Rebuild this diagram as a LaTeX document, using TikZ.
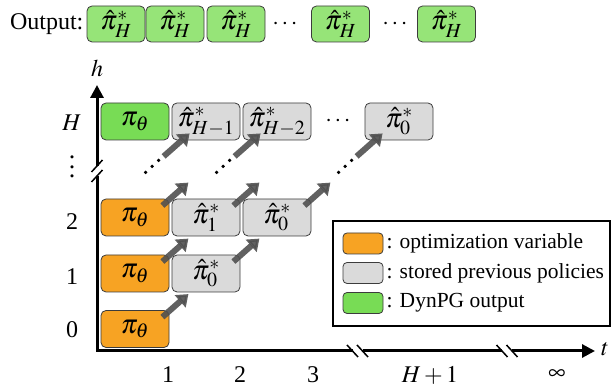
\documentclass[tikz,border=0pt]{standalone}
\usepackage{mathptmx}
\usepackage{fontspec}
\setmainfont{Liberation Serif}
\usetikzlibrary{arrows.meta, positioning}

\definecolor{optorange}{RGB}{247,163,35}
\definecolor{dpgreen}{RGB}{120,220,85}
\definecolor{outgreen}{RGB}{150,228,120}
\definecolor{storegray}{RGB}{218,218,218}
\definecolor{edgegray}{RGB}{60,60,60}
\definecolor{arrowgray}{RGB}{80,80,80}

\begin{document}
\begin{tikzpicture}[
    x=1pt, y=1pt,
    on grid,
    font=\fontsize{24}{28}\selectfont,
    pbox/.style={draw=edgegray, line width=0.8pt, rounded corners=5pt,
        minimum width=68pt, minimum height=37pt, inner sep=0pt,
        font=\fontsize{27}{30}\selectfont},
    optvar/.style={pbox, fill=optorange},
    stored/.style={pbox, fill=storegray},
    dynout/.style={pbox, fill=dpgreen},
    outbox/.style={pbox, fill=outgreen, minimum width=58pt, minimum height=36pt},
    swatch/.style={pbox, minimum width=40pt, minimum height=21pt, rounded corners=4pt},
    legendtxt/.style={anchor=west, inner sep=0pt, font=\fontsize{21.5}{25}\selectfont},
    axis/.style={line width=3pt},
    flow/.style={arrowgray, line width=6pt, opacity=0.9,
        -{Triangle[length=11pt, width=16pt]}},
    brk/.style={line width=1.5pt},
]
    \useasboundingbox (0,0) rectangle (613,387);

    % output row
    \node[outbox]                     (o1) at (116,363) {$\hat{\pi}^*_H$};
    \node[outbox, right=59pt of o1]   (o2) {$\hat{\pi}^*_H$};
    \node[outbox, right=61pt of o2]   (o3) {$\hat{\pi}^*_H$};
    \node[right=49pt of o3]           (odots1) {$\cdots$};
    \node[outbox, right=55.5pt of odots1] (o4) {$\hat{\pi}^*_H$};
    \node[right=54.5pt of o4]         (odots2) {$\cdots$};
    \node[outbox, right=51.5pt of odots2] (o5) {$\hat{\pi}^*_H$};
    \node[anchor=east, inner sep=0pt] (outlbl) at ([xshift=-3pt]o1.west) {Output:};

    % axes
    \coordinate (origin) at (97,36);
    \coordinate (hend)   at (97,302);
    \coordinate (tend)   at (595,36);
    \draw[axis, {Triangle[length=13pt, width=13pt]}-{Triangle[length=13pt, width=13pt]}]
        (hend) -- (origin) -- (tend);
    \node (hlbl) at (97,319) {$h$};
    \node (tlbl) at (605,38) {$t$};

    % axis breaks
    \coordinate (vbrk) at (97,216);
    \fill[white] ([shift={(-3,-5)}]vbrk) rectangle ([shift={(3,5)}]vbrk);
    \foreach \dy in {-5,5}
        \draw[brk] ([shift={(-5.5,\dy-6)}]vbrk) -- ([shift={(5.5,\dy+6)}]vbrk);
    \foreach \bx in {357.5,507}{
        \coordinate (tbrk) at (\bx,36);
        \fill[white] ([shift={(-5,-3)}]tbrk) rectangle ([shift={(5,3)}]tbrk);
        \foreach \dx in {-5,5}
            \draw[brk] ([shift={(\dx-5.5,6)}]tbrk) -- ([shift={(\dx+5.5,-6)}]tbrk);
    }

    % tick labels
    \node (ylH) at (72,264) {$H$};
    \node[align=center, inner sep=0pt, font=\fontsize{26}{9.5}\selectfont] (ylv) at (72,220) {.\\.\\.};
    \node (yl2) at (72,165) {2};
    \node (yl1) at (72,110) {1};
    \node (yl0) at (72,57)  {0};
    \node (xl1) at (168,12) {1};
    \node (xl2) at (240,12) {2};
    \node (xl3) at (313,12) {3};
    \node (xlH) at (430,12) {$H+1$};
    \node (xli) at (557,12) {$\infty$};

    % policy boxes
    \node[optvar]                      (r0c1) at (135,58) {$\pi_\theta$};
    \node[optvar, above=55.5pt of r0c1] (r1c1) {$\pi_\theta$};
    \node[optvar, above=56pt of r1c1]  (r2c1) {$\pi_\theta$};
    \node[dynout, above=96pt of r2c1]  (rHc1) {$\pi_\theta$};
    \node[stored, right=71pt of r1c1]  (r1c2) {$\hat{\pi}^*_0$};
    \node[stored, right=71pt of r2c1]  (r2c2) {$\hat{\pi}^*_1$};
    \node[stored, right=71pt of r2c2]  (r2c3) {$\hat{\pi}^*_0$};
    \node[stored, right=71pt of rHc1]  (rHc2) {$\hat{\pi}^*_{H-1}$};
    \node[stored, right=71pt of rHc2]  (rHc3) {$\hat{\pi}^*_{H-2}$};
    \node[right=61pt of rHc3]          (hdots) {$\cdots$};
    \node[stored, right=122pt of rHc3] (rHc4) {$\hat{\pi}^*_0$};

    % shifts to the next step
    \foreach \src in {r0c1, r1c1, r1c2, r2c1, r2c2, r2c3}
        \draw[flow] ([shift={(-7,-7)}]\src.north east) -- ([shift={(19,16)}]\src.north east);
    \foreach \dst in {rHc2, rHc3, rHc4}{
        \draw[flow] ([shift={(-8,-16)}]\dst.south west) -- ([shift={(18,7)}]\dst.south west);
        \foreach \ox/\oy in {-26/-32, -19.5/-26, -13/-20}
            \fill ([shift={(\ox,\oy)}]\dst.south west) circle (1.8pt);
    }

    % legend
    \node[draw, line width=1.5pt, minimum width=277pt, minimum height=105pt, inner sep=0pt]
        (legend) at (471.5,113.5) {};
    \node[swatch, fill=optorange]                   (kopt)   at (363,143.5) {};
    \node[swatch, fill=storegray, below=29.5pt of kopt] (kstore) {};
    \node[swatch, fill=dpgreen, below=30pt of kstore]   (kdyn)   {};
    \node[legendtxt] (lopt)   at ([xshift=3pt]kopt.east)   {: optimization variable};
    \node[legendtxt] (lstore) at ([xshift=3pt]kstore.east) {: stored previous policies};
    \node[legendtxt] (ldyn)   at ([xshift=3pt]kdyn.east)   {: DynPG output};
\end{tikzpicture}
\end{document}
